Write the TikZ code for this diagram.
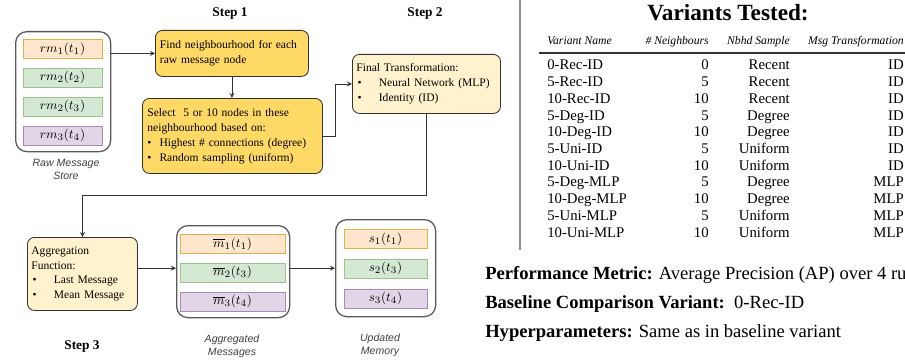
\documentclass[tikz,border=0pt]{standalone}
\usepackage[no-math]{fontspec}
\setmainfont{Liberation Serif}
\setsansfont{Liberation Sans}
\usetikzlibrary{positioning, calc}

\definecolor{stepgold}{HTML}{FFD966}
\definecolor{stepcream}{HTML}{FFF2CC}
\definecolor{msgorange}{HTML}{FFE6CC}
\definecolor{msgorangeline}{HTML}{E3B04B}
\definecolor{msggreen}{HTML}{D5E8D4}
\definecolor{msggreenline}{HTML}{9CC38A}
\definecolor{msgpurple}{HTML}{E1D5E7}
\definecolor{msgpurpleline}{HTML}{A68BB5}
\definecolor{edgegray}{HTML}{333333}

\begin{document}
\begin{tikzpicture}[
    x=0.025cm, y=-0.025cm,
    node distance=0.225cm,
    stepbox/.style={draw=edgegray, rounded corners=5pt, line width=0.6pt, align=left, inner ysep=0pt, font=\fontsize{8.2}{10.6}\selectfont},
    store/.style={draw=black!65, rounded corners=8pt, line width=0.9pt, fill=white, inner sep=0pt},
    msg/.style={minimum height=0.475cm, inner sep=0pt, line width=0.6pt, font=\fontsize{9.5}{11}\selectfont},
    orangemsg/.style={msg, draw=msgorangeline, fill=msgorange},
    greenmsg/.style={msg, draw=msggreenline, fill=msggreen},
    purplemsg/.style={msg, draw=msgpurpleline, fill=msgpurple},
    caption/.style={font=\sffamily\itshape\fontsize{7.5}{9.3}\selectfont, text=black!75, align=center},
    steplabel/.style={anchor=base, font=\bfseries\fontsize{9.5}{11}\selectfont},
    cell/.style={anchor=base east, font=\fontsize{10.5}{12}\selectfont, inner sep=0pt},
    headcell/.style={anchor=base east, font=\itshape\fontsize{8.3}{10}\selectfont, inner sep=0pt},
    setting/.style={anchor=base west, inner sep=0pt, font=\fontsize{13.2}{15}\selectfont},
    directed/.style={->, >=stealth, line width=0.6pt, draw=edgegray}
]
\useasboundingbox (0,0) rectangle (905,361);

% step labels
\node[steplabel] (step1) at (230,17) {Step 1};
\node[steplabel] (step2) at (425,17) {Step 2};
\node[steplabel] (step3) at (82,349) {Step 3};

% raw message store
\node[store, anchor=north west, minimum width=2.375cm, minimum height=3cm] (raw) at (15,31) {};
\node[orangemsg, minimum width=1.975cm, anchor=north] (rm1) at (62.5,39) {$rm_1(t_1)$};
\node[greenmsg, minimum width=1.975cm, below=of rm1] (rm2) {$rm_2(t_2)$};
\node[greenmsg, minimum width=1.975cm, below=of rm2] (rm3) {$rm_2(t_3)$};
\node[purplemsg, minimum width=1.975cm, below=of rm3] (rm4) {$rm_3(t_4)$};
\node[caption] (rawcap) at (66,169) {Raw Message\\Store};

% step 1
\node[stepbox, fill=stepgold, anchor=north west, minimum width=3.825cm, minimum height=1.15cm, text width=3.6cm, inner xsep=0.1cm] (find) at (155,30)
    {Find neighbourhood for each\\raw message node};
\node[stepbox, fill=stepgold, anchor=north west, minimum width=4.5cm, minimum height=1.875cm, text width=4.25cm, inner xsep=0.12cm] (select) at (142,98)
    {Select\ \ 5 or 10 nodes in these\\neighbourhood based on:\\
     \textbullet\hspace{0.7em}Highest \# connections (degree)\\
     \textbullet\hspace{0.7em}Random sampling (uniform)};

% step 2
\node[stepbox, fill=stepcream, anchor=north west, minimum width=3.7cm, minimum height=1.475cm, text width=3.5cm, inner xsep=0.1cm] (final) at (352,54)
    {Final Transformation:\\
     \hspace{0.1em}\textbullet\hspace{1.5em}Neural Network (MLP)\\
     \hspace{0.1em}\textbullet\hspace{1.5em}Identity (ID)};

% step 3
\node[stepbox, fill=stepcream, anchor=north west, minimum width=2.75cm, minimum height=1.825cm, text width=2.55cm, inner xsep=0.1cm] (agg) at (27,237)
    {Aggregation\\Function:\\
     \hspace{0.1em}\textbullet\hspace{1.5em}Last Message\\
     \hspace{0.1em}\textbullet\hspace{1.5em}Mean Message};

% aggregated messages
\node[store, anchor=north west, minimum width=2.825cm, minimum height=2.3cm] (aggstore) at (176,225) {};
\node[orangemsg, minimum width=2.625cm, anchor=north] (am1) at (232.5,234) {$\overline{m}_1(t_1)$};
\node[greenmsg, minimum width=2.625cm, below=of am1] (am2) {$\overline{m}_2(t_3)$};
\node[purplemsg, minimum width=2.625cm, below=of am2] (am3) {$\overline{m}_3(t_4)$};
\node[caption] (aggcap) at (232,346) {Aggregated\\Messages};

% updated memory
\node[store, anchor=north west, minimum width=2.5cm, minimum height=2.425cm] (mem) at (335,219) {};
\node[orangemsg, minimum width=2.075cm, anchor=north] (s1) at (385.5,229) {$s_1(t_1)$};
\node[greenmsg, minimum width=2.075cm, below=0.25cm of s1] (s2) {$s_2(t_3)$};
\node[purplemsg, minimum width=2.075cm, below=0.25cm of s2] (s3) {$s_3(t_4)$};
\node[caption] (memcap) at (380,345.5) {Updated\\Memory};

% connectors
\draw[directed] (find.west -| raw.east) -- (find.west);
\draw[directed] (find.south) -- (find.south |- select.north);
\draw[directed] (select.east) -- ++(13,0) |- (final.west);
\draw[directed] (final.south) -- ++(0,82) -| (agg.north);
\draw[directed] (agg.east |- mem) -- (aggstore.west |- mem);
\draw[directed] (aggstore.east |- mem) -- (mem.west);

% variants panel
\draw[black!45, line width=1pt] (520,0) -- (520,250);
\node[anchor=base, font=\bfseries\fontsize{16.5}{18}\selectfont] (title) at (728,21) {Variants Tested:};
\node[headcell, anchor=base west] (hname) at (547,45) {Variant Name};
\node[headcell] (hnb) at (709,45) {\# Neighbours};
\node[headcell] (hsmp) at (790,45) {Nbhd Sample};
\node[headcell] (htr) at (904,45) {Msg Transformation};
\draw[black!80, line width=0.8pt] (539,53) -- (905,53);

\foreach \vname/\nb/\smp/\tr [count=\r] in {
    0-Rec-ID/0/Recent/ID, 5-Rec-ID/5/Recent/ID, 10-Rec-ID/10/Recent/ID,
    5-Deg-ID/5/Degree/ID, 10-Deg-ID/10/Degree/ID, 5-Uni-ID/5/Uniform/ID,
    10-Uni-ID/10/Uniform/ID, 5-Deg-MLP/5/Degree/MLP, 10-Deg-MLP/10/Degree/MLP,
    5-Uni-MLP/5/Uniform/MLP, 10-Uni-MLP/10/Uniform/MLP}{
  \node[cell, anchor=base west] (vname\r) at (547,{70+16.7*(\r-1)}) {\vname};
  \node[cell] (vnb\r) at (709,{70+16.7*(\r-1)}) {\nb};
  \node[cell] (vsmp\r) at (790,{70+16.7*(\r-1)}) {\smp};
  \node[cell] (vtr\r) at (904,{70+16.7*(\r-1)}) {\tr};
}

% settings
\node[setting] (metric) at (485,279) {\textbf{Performance Metric:} Average Precision (AP) over 4 ru};
\node[setting] (baseline) at (485,308) {\textbf{Baseline Comparison Variant:}\ \ 0-Rec-ID};
\node[setting] (hyper) at (485,337) {\textbf{Hyperparameters:} Same as in baseline variant};
\end{tikzpicture}
\end{document}
